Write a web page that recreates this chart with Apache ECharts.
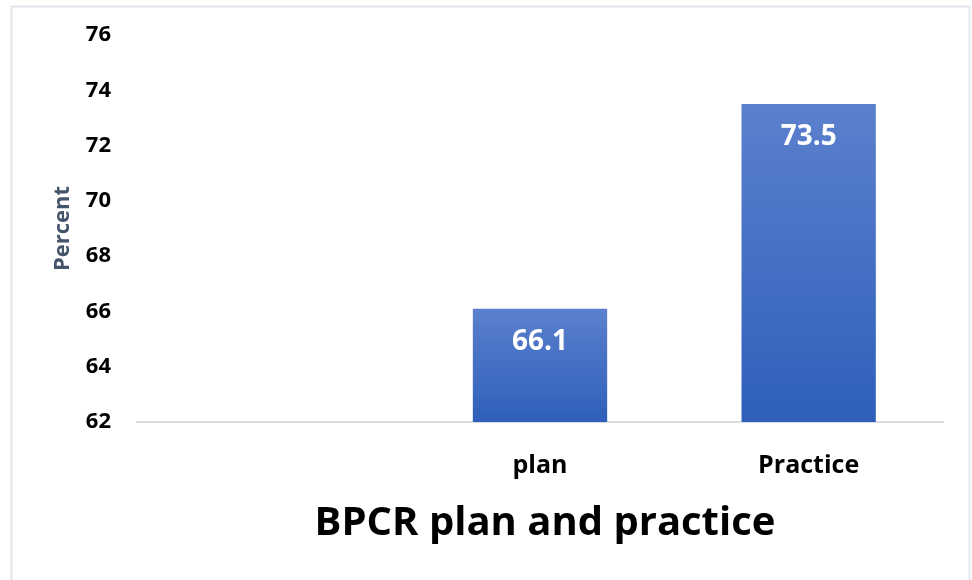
<!DOCTYPE html>
<html>
<head>
<meta charset="utf-8">
<script src="https://cdn.jsdelivr.net/npm/echarts@6/dist/echarts.min.js"></script>
<style>html,body{margin:0;padding:0;background:#fff;}#c{width:972px;height:580px;}</style>
</head>
<body>
<div id="c"></div>
<script>
var categories = ['', 'plan', 'Practice'];
var values = [null, 66.1, 73.5];
var yMin = 62, yMax = 76, yStep = 2;
var titleText = 'BPCR plan and practice';
var yName = 'Percent';

var chart = echarts.init(document.getElementById('c'), null, {renderer: 'canvas'});
var font = '"Open Sans", "Noto Sans", sans-serif';
chart.setOption({
  animation: false,
  backgroundColor: '#ffffff',
  title: {
    text: titleText,
    left: 540,
    top: 499,
    textAlign: 'center',
    textStyle: {fontFamily: font, fontWeight: 'bold', fontSize: 40, color: '#000'}
  },
  graphic: [{
    type: 'rect',
    shape: {x: 11.5, y: 6.5, width: 958, height: 600},
    style: {fill: 'none', stroke: '#e2e6ec', lineWidth: 2},
    silent: true
  }],
  grid: {left: 137, right: 29, top: 35, bottom: 158},
  xAxis: {
    type: 'category',
    data: categories,
    axisLine: {show: true, lineStyle: {color: '#d9dde3', width: 2}},
    axisTick: {show: false},
    axisLabel: {margin: 31, fontFamily: font, fontWeight: 'bold', fontSize: 25, color: '#000'}
  },
  yAxis: {
    type: 'value',
    min: yMin, max: yMax, interval: yStep,
    name: yName,
    nameLocation: 'middle',
    nameRotate: 90,
    nameGap: 63,
    nameTextStyle: {fontFamily: font, fontWeight: 'bold', fontSize: 22, color: '#44546A'},
    axisLine: {show: false},
    axisTick: {show: false},
    splitLine: {show: false},
    axisLabel: {margin: 26, fontFamily: font, fontWeight: 'bold', fontSize: 22, color: '#000'}
  },
  series: [{
    type: 'bar',
    data: values,
    barWidth: '50%',
    itemStyle: {
      color: new echarts.graphic.LinearGradient(0, 0, 0, 1, [
        {offset: 0, color: '#5b80cd'},
        {offset: 1, color: '#2f5fbb'}
      ])
    },
    label: {
      show: true,
      position: 'insideTop',
      distance: 19,
      fontFamily: font, fontWeight: 'bold', fontSize: 28, color: '#ffffff'
    }
  }]
});
</script>
</body>
</html>
